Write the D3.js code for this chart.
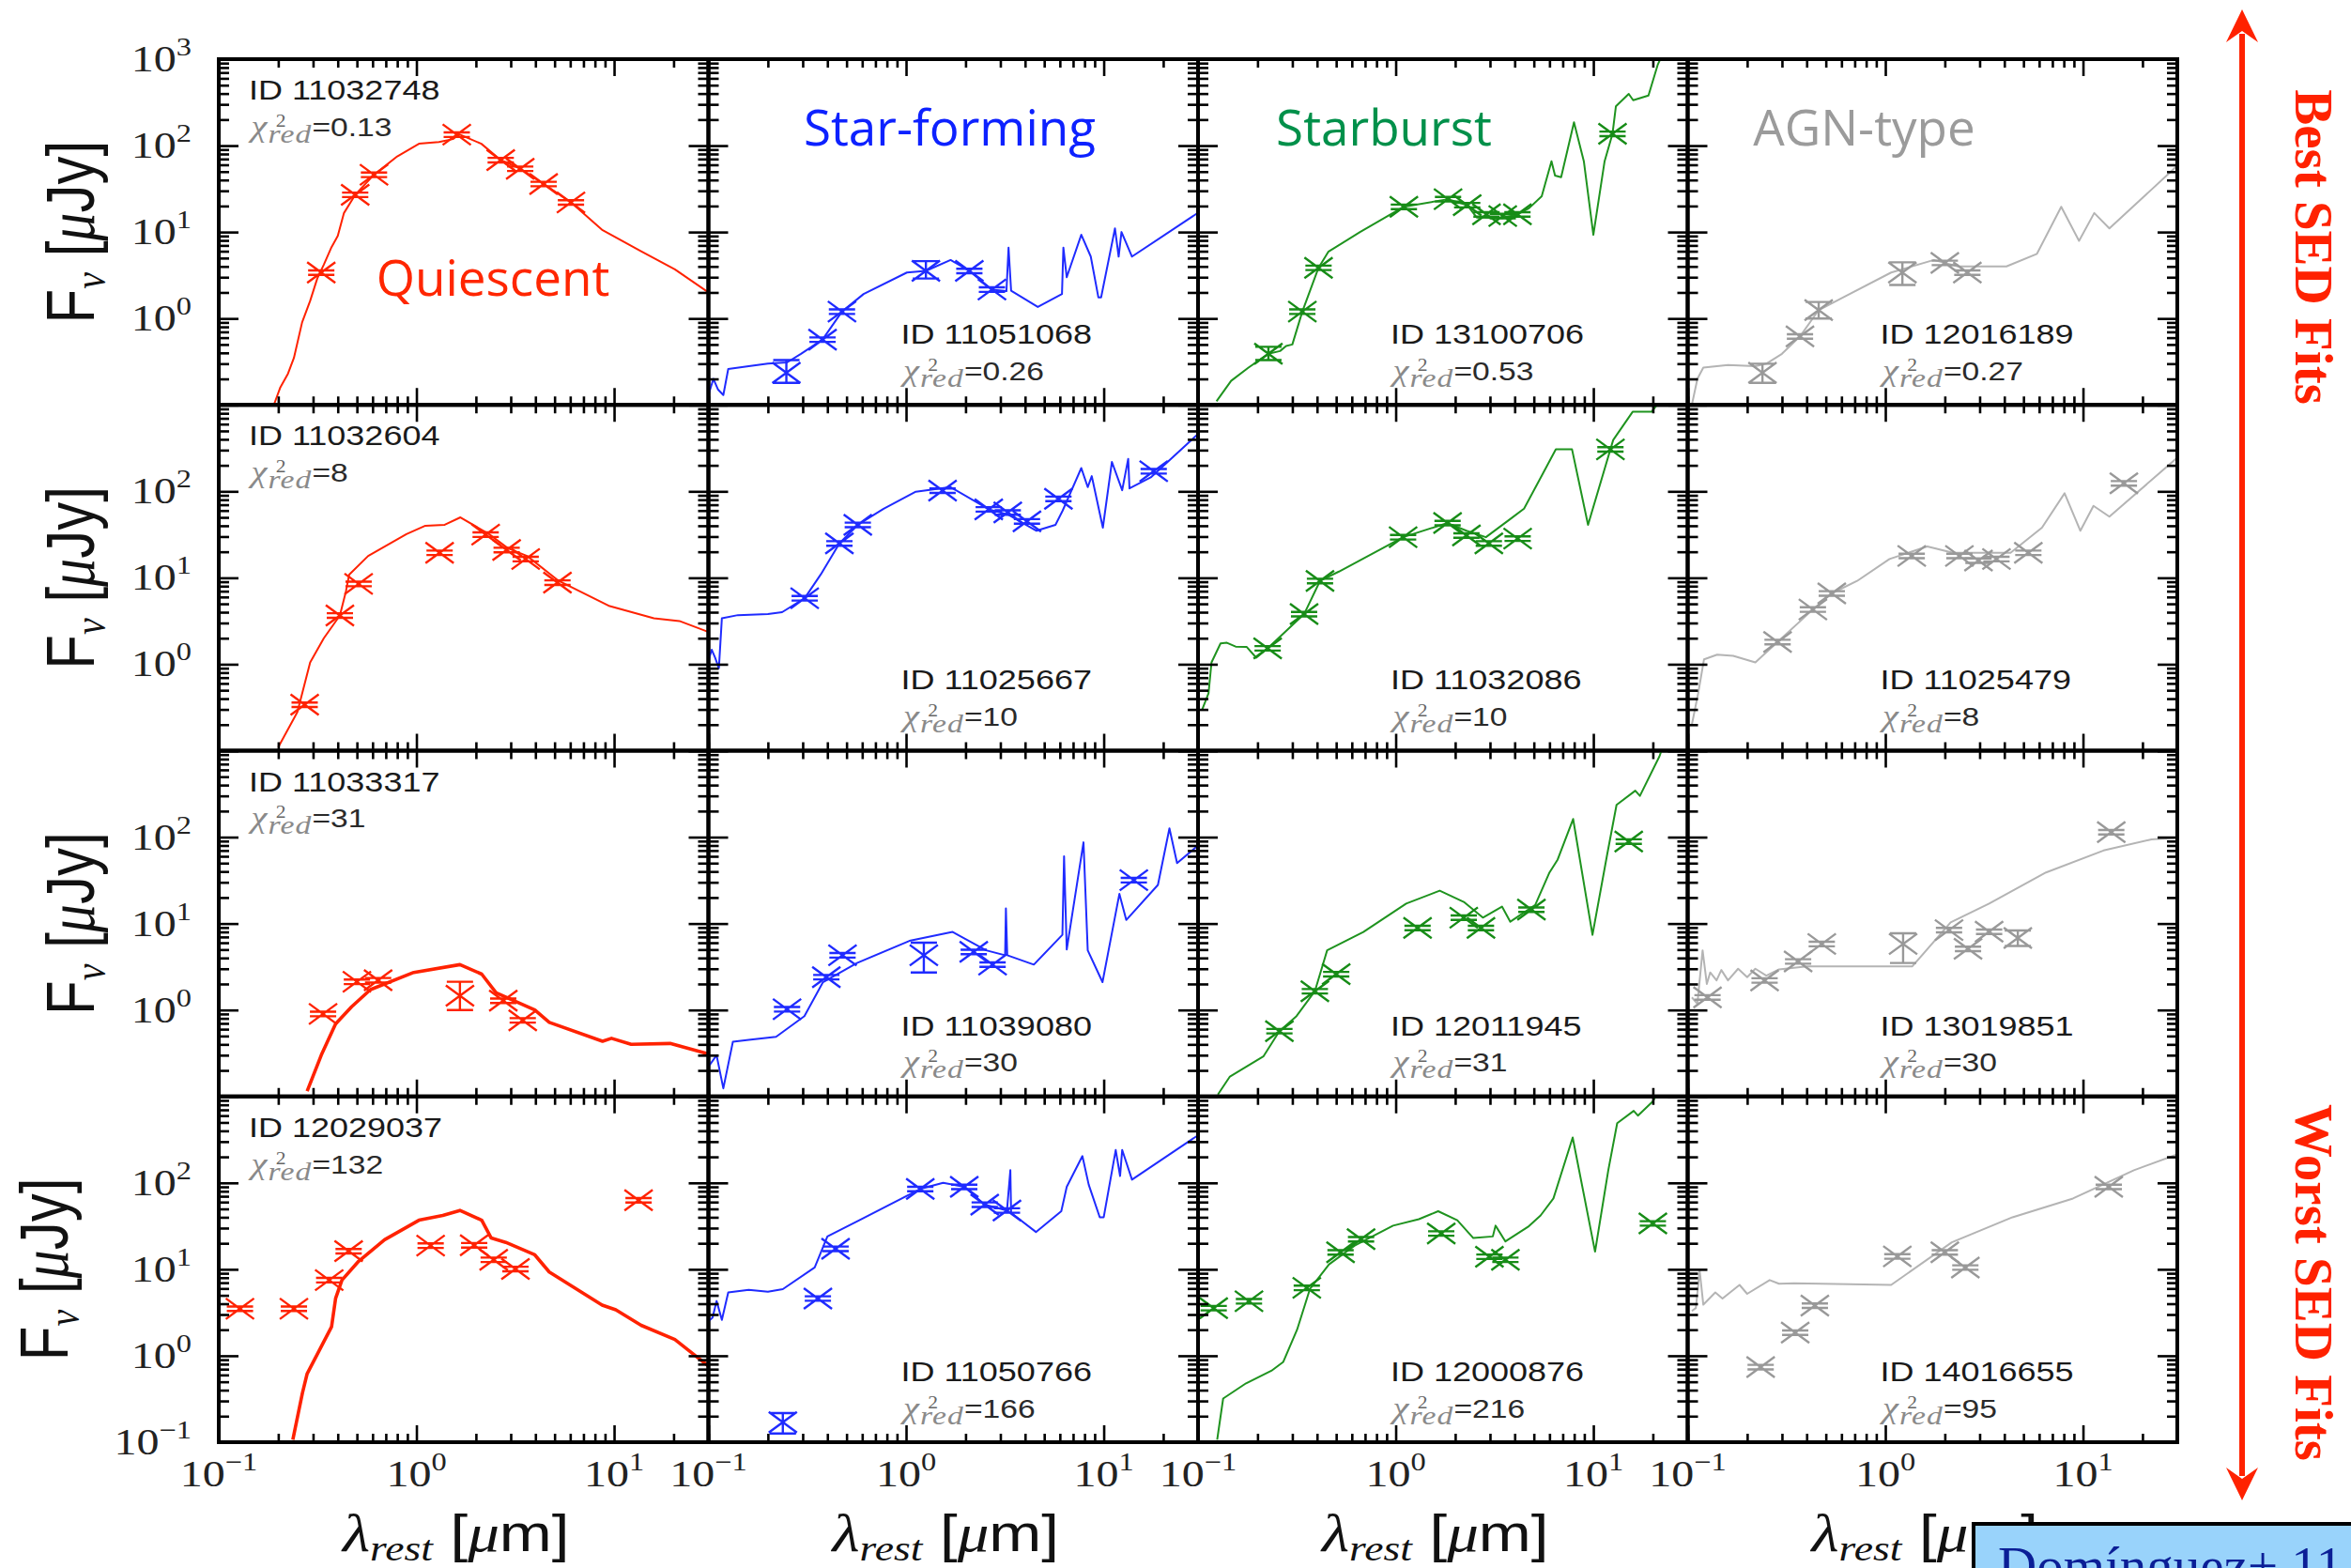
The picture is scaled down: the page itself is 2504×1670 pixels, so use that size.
<!DOCTYPE html>
<html>
<head>
<meta charset="utf-8">
<script src="https://cdn.jsdelivr.net/npm/d3@7"></script>
<style>
  body { margin: 0; background: #fff; }
  svg { display: block; }
</style>
</head>
<body>
<svg id="chart" width="2504" height="1670"></svg>
<script>
// --- data ---

const classNames = ["Quiescent", "Star-forming", "Starburst", "AGN-type"];

// rows go from best fit (top) to worst fit (bottom)
const galaxyIds = [
  ["11032748", "11051068", "13100706", "12016189"],
  ["11032604", "11025667", "11032086", "11025479"],
  ["11033317", "11039080", "12011945", "13019851"],
  ["12029037", "11050766", "12000876", "14016655"]
];
const chiValues = [
  ["0.13", "0.26", "0.53", "0.27"],
  ["8", "10", "10", "8"],
  ["31", "30", "31", "30"],
  ["132", "166", "216", "95"]
];

// model SEDs: [lambda_rest (um), F_nu (uJy)]
const qModel1 = [[0.19,0.1],[0.205,0.16],[0.224,0.23],[0.24,0.35],[0.264,0.9],[0.29,1.6],[0.315,2.9],[0.34,4.2],[0.372,6.7],[0.4,9],[0.43,16.6],[0.49,27],[0.61,46],[0.8,75],[1.03,105],[1.3,110],[1.53,119],[1.65,135],[2.13,105],[2.67,68],[3.35,54],[4.4,36],[6.05,22],[8.75,10.5],[13.7,6],[20.3,3.7],[30,2.0]];
const sModel1 = [[0.1,0.13],[0.106,0.2],[0.112,0.15],[0.119,0.13],[0.126,0.26],[0.16,0.28],[0.2,0.3],[0.25,0.31],[0.294,0.39],[0.378,0.57],[0.474,1.2],[0.61,1.92],[1.01,3.4],[1.26,3.55],[1.68,4.75],[2.09,3.55],[2.72,2.16],[3.22,2.07],[3.3,6.6],[3.4,2.1],[4.64,1.36],[6.15,1.92],[6.25,6.6],[6.5,3.0],[7.7,9.3],[8.6,5.2],[9.4,1.75],[9.7,1.75],[11.4,11],[11.9,5.2],[12.3,10],[13.9,5.2],[29.9,16.6]];
const bModel1 = [[0.124,0.11],[0.147,0.19],[0.18,0.27],[0.227,0.39],[0.26,0.42],[0.279,0.48],[0.3,0.5],[0.337,1.2],[0.407,3.86],[0.456,5.9],[0.66,10],[1.1,19.6],[1.84,24],[2.3,20.5],[2.57,14.7],[3.48,14.5],[4.13,16],[4.72,18.8],[5.48,26],[6.14,66],[6.4,45],[6.87,43],[7.98,186],[8.95,66],[10,9.3],[11.4,66],[12.5,137],[13,284],[15.1,396],[15.9,335],[19,380],[21.2,870],[23,1300]];
const aModel1 = [[0.105,0.1],[0.112,0.2],[0.12,0.27],[0.16,0.29],[0.22,0.28],[0.25,0.3],[0.3,0.39],[0.37,0.62],[0.46,1.25],[0.61,1.75],[1.07,3.4],[1.76,4.75],[2.33,4.0],[4.1,4.0],[5.85,5.6],[7.76,19.6],[9.55,7.9],[11.4,16.6],[13.6,11],[27.6,49],[31,63]];

const qModel2 = [[0.2,0.11],[0.25,0.28],[0.29,1.05],[0.34,2.0],[0.41,3.67],[0.44,7.0],[0.457,10.9],[0.57,17.9],[0.89,32],[1.11,40],[1.39,41],[1.67,50],[2.33,32],[2.9,22],[3.63,17.9],[5.25,9.2],[9.5,4.7],[15.9,3.4],[21.4,3.16],[31,2.3]];
const sModel2 = [[0.1,1.1],[0.104,1.47],[0.108,1.2],[0.113,0.9],[0.117,3.4],[0.141,3.7],[0.2,3.8],[0.236,4.0],[0.307,5.8],[0.37,10.9],[0.46,25],[0.57,41],[0.77,63],[1.12,99],[1.68,112],[2.62,62],[3.27,54],[4.57,35],[5.7,41],[6.2,60],[7.7,186],[8.3,112],[8.7,150],[9.9,38],[11,219],[12.4,103],[13.3,238],[13.5,108],[17.3,145],[30.1,465]];
const bModel2 = [[0.105,0.3],[0.113,0.46],[0.117,1.05],[0.13,1.74],[0.14,1.77],[0.155,1.6],[0.176,1.59],[0.197,1.19],[0.225,1.53],[0.344,3.8],[0.414,9.2],[0.516,11.8],[1.09,29.5],[1.83,43],[2.28,35],[2.86,29.5],[3.85,49],[4.46,63],[6.46,306],[7.8,306],[9.4,41],[12.6,393],[15.8,832],[19.7,832],[22,1150]];
const aModel2 = [[0.105,0.2],[0.113,0.46],[0.121,1.14],[0.141,1.29],[0.17,1.25],[0.22,1.05],[0.285,1.81],[0.43,4.3],[0.536,6.6],[0.72,9.2],[1.05,16.5],[1.63,23],[2.2,19.5],[4.3,19.5],[6.2,38],[8.07,95],[9.7,35],[11.3,68],[13.6,51],[30.8,259]];

const qModel3 = [[0.28,0.115],[0.33,0.3],[0.39,0.69],[0.47,1.09],[0.585,1.72],[0.97,2.72],[1.66,3.35],[2.14,2.6],[2.53,1.58],[3.97,1.0],[4.7,0.72],[8.74,0.435],[9.7,0.47],[12.2,0.4],[19.2,0.41],[30,0.31]];
const sModel3 = [[0.1,0.22],[0.11,0.3],[0.119,0.124],[0.133,0.43],[0.16,0.45],[0.22,0.49],[0.306,0.85],[0.38,2.1],[0.565,3.5],[1.04,6.3],[1.72,8.0],[2.54,4.9],[3.17,4.3],[3.2,15],[3.25,4.3],[4.43,3.35],[6.18,7.4],[6.3,60],[6.5,5.0],[7.9,87],[8.3,4.9],[9.86,2.1],[12.0,22],[13,11],[18.8,28],[21.5,126],[23.5,50],[29.4,77]];
const bModel3 = [[0.126,0.105],[0.145,0.17],[0.214,0.29],[0.258,0.57],[0.315,0.85],[0.39,1.65],[0.45,4.9],[0.686,8.0],[1.13,17],[1.67,24],[2.21,17.8],[2.76,11.7],[3.45,15.7],[3.8,10.5],[5.08,16.4],[6.0,39],[6.6,55],[7.9,162],[9.9,7.4],[11.7,60],[13.1,236],[16.3,344],[17.2,300],[21.6,860],[23,1300]];
const aModel3 = [[0.105,1.4],[0.112,1.18],[0.119,4.9],[0.125,2.0],[0.13,2.72],[0.14,2.2],[0.148,2.9],[0.16,2.2],[0.18,3.0],[0.2,2.4],[0.22,3.0],[0.25,2.5],[0.29,2.95],[0.4,3.2],[1.37,3.2],[2.14,10.3],[3.35,17],[6.5,39],[12.7,70],[22.2,94],[29.3,98]];

const qModel4 = [[0.237,0.107],[0.265,0.37],[0.28,0.62],[0.372,2.16],[0.39,4.6],[0.42,7.5],[0.51,12.4],[0.69,22],[1.03,37],[1.36,42],[1.66,48],[2.14,37],[2.39,23],[2.83,20.5],[3.97,14.7],[4.7,9.3],[8.7,3.86],[10.2,3.4],[13.7,2.25],[20.3,1.54],[30,0.76]];
const sModel4 = [[0.1,2.5],[0.105,2.77],[0.11,4.3],[0.117,2.6],[0.126,5.4],[0.16,5.8],[0.2,5.5],[0.238,5.9],[0.345,10.5],[0.4,24],[0.58,37],[1.18,85],[1.54,100],[1.97,90],[2.5,56],[3.24,48],[3.37,140],[3.4,45],[4.54,27],[6.1,47],[6.5,90],[7.8,204],[8.4,95],[9.55,40],[10.0,40],[11.5,240],[12.1,120],[12.4,240],[13.9,109],[30.4,363]];
const bModel4 = [[0.125,0.107],[0.134,0.32],[0.175,0.48],[0.235,0.67],[0.27,0.85],[0.317,2.0],[0.368,5.9],[0.46,11.4],[0.62,18.8],[0.97,32],[1.31,38],[1.64,47],[2.05,37],[2.47,23],[3.1,24],[3.2,32],[3.59,21],[4.67,31],[5.41,42],[6.28,66],[7.86,335],[10.2,16],[11.9,140],[13.2,490],[16,681],[16.8,600],[20,875],[22,1300]];
const aModel4 = [[0.105,3.3],[0.11,3.56],[0.115,9.7],[0.12,3.9],[0.138,5.4],[0.15,4.6],[0.183,6.6],[0.2,5.2],[0.26,7.5],[0.29,6.8],[0.346,6.9],[1.07,6.6],[2.17,20.5],[4.4,40],[8.9,66],[18.1,140],[29.7,212]];

// photometry: [lambda, flux, fluxLow, fluxHigh]; low/high only where the bar is visible
const qObs1 = [[0.33,3.4],[0.49,27],[0.61,46],[1.6,134],[2.67,68],[3.35,54],[4.4,36],[6.05,22]];
const sObs1 = [[0.248,0.236,0.18,0.33],[0.378,0.57],[0.474,1.2],[1.26,3.55,2.9,4.6],[2.09,3.55],[2.72,2.16]];
const bObs1 = [[0.227,0.39,0.33,0.47],[0.337,1.2],[0.407,3.86],[1.1,19.6],[1.84,24],[2.3,20.5],[2.88,16],[3.48,15.3],[4.13,16],[12.5,137]];
const aObs1 = [[0.239,0.236,0.18,0.3],[0.37,0.62],[0.46,1.25,1.0,1.55],[1.22,3.4,2.44,4.46],[2.0,4.4],[2.6,3.4]];

const qObs2 = [[0.272,0.34],[0.41,3.67],[0.51,8.5],[1.31,19.5],[2.24,31.6],[2.86,21],[3.57,16.5],[5.17,8.8]];
const sObs2 = [[0.307,5.8],[0.46,25],[0.57,41],[1.53,102],[2.62,62],[3.27,57],[4.09,45],[5.9,82],[17.9,171]];
const bObs2 = [[0.225,1.53],[0.344,3.8],[0.414,9.2],[1.09,29.5],[1.83,43],[2.28,30.9],[2.96,25],[4.14,28.4],[12.2,306]];
const aObs2 = [[0.285,1.81],[0.43,4.3],[0.536,6.6],[1.36,17.9],[2.37,17.9],[2.96,15.8],[3.65,16.5],[5.29,19.5],[16.1,124]];

const qObs3 = [[0.337,0.9],[0.5,2.12],[0.64,2.21],[1.66,1.46,1.0,2.12],[2.75,1.28],[3.45,0.76]];
const sObs3 = [[0.25,1.02],[0.395,2.4],[0.477,4.3],[1.23,4.3,2.72,6.0],[2.2,4.7],[2.74,3.35],[14.2,31.8]];
const bObs3 = [[0.258,0.57],[0.39,1.65],[0.5,2.6],[1.29,8.9],[2.21,11.7],[2.7,8.9],[4.86,14.5],[15.1,89]];
const aObs3 = [[0.126,1.4],[0.245,2.2],[0.362,3.65],[0.477,5.8],[1.23,5.8,3.5,7.7],[2.1,8.4],[2.62,5.1],[3.35,8.05],[4.68,6.8,5.5,8.3],[13.9,114]];

const qObs4 = [[0.128,3.5],[0.24,3.5],[0.362,7.5],[0.454,16.2],[1.18,18.8],[1.96,19],[2.46,12.9],[3.17,10.1],[13.3,63]];
const sObs4 = [[0.238,0.17,0.126,0.217],[0.358,4.6],[0.44,17.3],[1.18,85],[1.97,90],[2.5,56],[3.24,48]];
const bObs4 = [[0.12,3.56],[0.181,4.27],[0.355,6.1],[0.526,15.7],[0.668,22.3],[1.7,26],[2.98,14],[3.59,12.9],[20,34]];
const aObs4 = [[0.234,0.74],[0.35,1.85],[0.44,3.8],[1.15,14.1],[2.0,15.7],[2.54,10.5],[13.5,90]];

const models = [
  [qModel1, sModel1, bModel1, aModel1],
  [qModel2, sModel2, bModel2, aModel2],
  [qModel3, sModel3, bModel3, aModel3],
  [qModel4, sModel4, bModel4, aModel4]
];
const observations = [
  [qObs1, sObs1, bObs1, aObs1],
  [qObs2, sObs2, bObs2, aObs2],
  [qObs3, sObs3, bObs3, aObs3],
  [qObs4, sObs4, bObs4, aObs4]
];

// --- layout / style ---

const W = 2504, H = 1670;
const gridLeft = 233, gridTop = 63, panelW = 521.5, panelH = 368.25;
const lineColors = ["#ff2200", "#1f2bff", "#1f931f", "#b4b4b4"];
const markColors = ["#ff2200", "#1f2bff", "#178c17", "#999999"];
const titleColors = ["#ff2600", "#0d21ff", "#00904a", "#9b9b9b"];
const titlePos = [[292, 252], [257, 92], [198, 92], [188, 92]];
const stretch = "scale(1.2,1)"; // the original figure is stretched sideways
const serif = "'Liberation Serif', 'Times New Roman', serif";
const sans = "'Liberation Sans', Arial, sans-serif";

const x = d3.scaleLog().domain([0.1, 30]).range([0, panelW]);
const y = d3.scaleLog().domain([0.1, 1000]).range([panelH, 0]);

const isMajor = v => Math.abs(Math.log10(v) - Math.round(Math.log10(v))) < 1e-6;
const xMajor = x.ticks().filter(isMajor), xMinor = x.ticks().filter(v => !isMajor(v));
const yMajor = y.ticks().filter(isMajor), yMinor = y.ticks().filter(v => !isMajor(v));

const svg = d3.select("#chart");
svg.append("rect").attr("width", W).attr("height", H).attr("fill", "#fff");
svg.append("defs").append("clipPath").attr("id", "panelClip")
  .append("rect").attr("width", panelW).attr("height", panelH);

const line = d3.line().x(d => x(d[0])).y(d => y(d[1]));

function drawTicks(g) {
  const add = (axis, tr, vals, size) => g.append("g").attr("transform", tr)
    .call(axis.tickValues(vals).tickSize(size).tickFormat(""))
    .call(a => a.select(".domain").remove())
    .call(a => a.selectAll("text").remove())
    .call(a => a.selectAll("line").attr("stroke", "#000").attr("stroke-width", 2.6));
  add(d3.axisTop(x), `translate(0,${panelH})`, xMajor, 18);
  add(d3.axisTop(x), `translate(0,${panelH})`, xMinor, 9);
  add(d3.axisBottom(x), "translate(0,0)", xMajor, 18);
  add(d3.axisBottom(x), "translate(0,0)", xMinor, 9);
  add(d3.axisRight(y), "translate(0,0)", yMajor, 21);
  add(d3.axisRight(y), "translate(0,0)", yMinor, 11);
  add(d3.axisLeft(y), `translate(${panelW},0)`, yMajor, 21);
  add(d3.axisLeft(y), `translate(${panelW},0)`, yMinor, 11);
}

function drawMarkers(g, obs, color) {
  const mw = 15, mh = 11, cw = 14;
  g.selectAll("path.obs").data(obs).enter().append("path")
    .attr("class", "obs")
    .attr("fill", "none").attr("stroke", color).attr("stroke-width", 2.4)
    .attr("d", d => {
      const cx = x(d[0]), cy = y(d[1]);
      const lo = y(d.length > 2 ? d[2] : d[1] * 0.94);
      const hi = y(d.length > 3 ? d[3] : d[1] * 1.06);
      return `M${cx - mw},${cy - mh}L${cx + mw},${cy + mh}M${cx - mw},${cy + mh}L${cx + mw},${cy - mh}` +
        `M${cx},${hi}L${cx},${lo}M${cx - cw},${hi}H${cx + cw}M${cx - cw},${lo}H${cx + cw}`;
    });
}

function annotate(g, rx, ry, id, chi) {
  const a = g.append("g").attr("transform", `translate(${rx},${ry}) ${stretch}`);
  a.append("text").attr("font-family", sans).attr("font-size", 30).attr("fill", "#1a1a1a")
    .text("ID " + id);
  // chi^2_red = value, as one text with sub/superscript pieces
  const t = a.append("text").attr("x", 2).attr("y", 39).attr("font-family", serif).attr("fill", "#8a8a8a");
  t.append("tspan").attr("font-style", "italic").attr("font-size", 32).text("χ");
  t.append("tspan").attr("x", 24).attr("y", 29).attr("font-size", 18).attr("fill", "#666").text("2");
  t.append("tspan").attr("x", 17).attr("y", 46).attr("font-style", "italic").attr("font-size", 28)
    .attr("letter-spacing", 1).text("red");
  t.append("tspan").attr("y", 39).attr("font-family", sans).attr("font-size", 28)
    .attr("fill", "#2a2a2a").text("=" + chi);
}

function powerLabel(parent, px, py, v, anchor) {
  const e = Math.round(Math.log10(v));
  const t = parent.append("g").attr("transform", `translate(${px},${py}) ${stretch}`)
    .append("text").attr("text-anchor", anchor).attr("font-family", serif).attr("fill", "#222");
  t.append("tspan").attr("font-size", 40).text("10");
  t.append("tspan").attr("font-size", 27).attr("dy", -17).text(e < 0 ? "−" + (-e) : String(e));
}

// --- panels ---
models.forEach((row, r) => {
  row.forEach((model, c) => {
    const px = gridLeft + c * panelW, py = gridTop + r * panelH;
    const g = svg.append("g").attr("transform", `translate(${px},${py})`);
    const plot = g.append("g").attr("clip-path", "url(#panelClip)");

    plot.append("path").datum(model)
      .attr("fill", "none").attr("stroke", lineColors[c])
      .attr("stroke-width", (c === 0 && r >= 2) ? 3.6 : 2)
      .attr("stroke-linejoin", "round")
      .attr("d", line);
    drawMarkers(plot, observations[r][c], markColors[c]);

    drawTicks(g);
    g.append("rect").attr("width", panelW).attr("height", panelH)
      .attr("fill", "none").attr("stroke", "#000").attr("stroke-width", 4);

    if (c === 0) annotate(g, 32, 43, galaxyIds[r][c], chiValues[r][c]);
    else annotate(g, 205, 303, galaxyIds[r][c], chiValues[r][c]);

    if (r === 0) {
      g.append("text").attr("x", titlePos[c][0]).attr("y", titlePos[c][1])
        .attr("text-anchor", "middle").attr("font-family", "'Open Sans', 'Noto Sans', sans-serif")
        .attr("font-size", 53).attr("fill", titleColors[c]).text(classNames[c]);
    }
  });
});

// y tick labels and y titles (left column)
for (let r = 0; r < 4; r++) {
  const py = gridTop + r * panelH;
  yMajor.filter(v => (r === 0 || v < 1000) && (r === 3 || v > 0.1))
    .forEach(v => powerLabel(svg, gridLeft - 29, py + y(v) + 13, v, "end"));

  const lx = r === 3 ? 72 : 100;
  const t = svg.append("g")
    .attr("transform", `translate(${lx},${py + panelH / 2}) ${stretch} rotate(-90)`)
    .append("text").attr("text-anchor", "middle").attr("fill", "#111").attr("font-size", 60);
  t.append("tspan").attr("font-family", sans).text("F");
  t.append("tspan").attr("font-family", serif).attr("font-style", "italic").attr("font-size", 40).attr("dy", 10).text("ν");
  t.append("tspan").attr("font-family", sans).attr("dy", -10).text(" [");
  t.append("tspan").attr("font-family", serif).attr("font-style", "italic").text("μ");
  t.append("tspan").attr("font-family", sans).text("Jy]");
}

// x tick labels and x titles (bottom row)
for (let c = 0; c < 4; c++) {
  const px = gridLeft + c * panelW;
  xMajor.forEach(v => powerLabel(svg, px + x(v), 1583, v, "middle"));

  const t = svg.append("g")
    .attr("transform", `translate(${px + panelW / 2 - 8},1652) ${stretch}`)
    .append("text").attr("text-anchor", "middle").attr("fill", "#111").attr("font-size", 56);
  t.append("tspan").attr("font-family", serif).attr("font-style", "italic").text("λ");
  t.append("tspan").attr("font-family", serif).attr("font-style", "italic").attr("font-size", 38).attr("dy", 10).text("rest");
  t.append("tspan").attr("font-family", sans).attr("dy", -10).text(" [");
  t.append("tspan").attr("font-family", serif).attr("font-style", "italic").text("μ");
  t.append("tspan").attr("font-family", sans).text("m]");
}

// --- best / worst arrow on the right ---
const red = "#ff2200";
svg.append("line").attr("x1", 2388).attr("x2", 2388).attr("y1", 36).attr("y2", 1572)
  .attr("stroke", red).attr("stroke-width", 6);
svg.append("path").attr("fill", red).attr("d", "M2388,10L2405,45L2388,33L2371,45Z");
svg.append("path").attr("fill", red).attr("d", "M2388,1598L2405,1563L2388,1575L2371,1563Z");

[["Best SED Fits", 263], ["Worst SED Fits", 1366]].forEach(([txt, cy]) => {
  svg.append("text").attr("transform", `translate(2445,${cy}) rotate(90)`)
    .attr("text-anchor", "middle").attr("font-family", serif).attr("font-weight", "bold")
    .attr("font-size", 57).attr("fill", red).text(txt);
});

// --- reference box, cut by the bottom-right corner ---
svg.append("rect").attr("x", 2102).attr("y", 1623).attr("width", 440).attr("height", 70)
  .attr("fill", "#99d3fb").attr("stroke", "#000").attr("stroke-width", 4);
svg.append("text").attr("x", 2128).attr("y", 1687).attr("font-family", serif)
  .attr("font-size", 57).attr("fill", "#0b1e96").text("Domínguez+ 11");
</script>
</body>
</html>
